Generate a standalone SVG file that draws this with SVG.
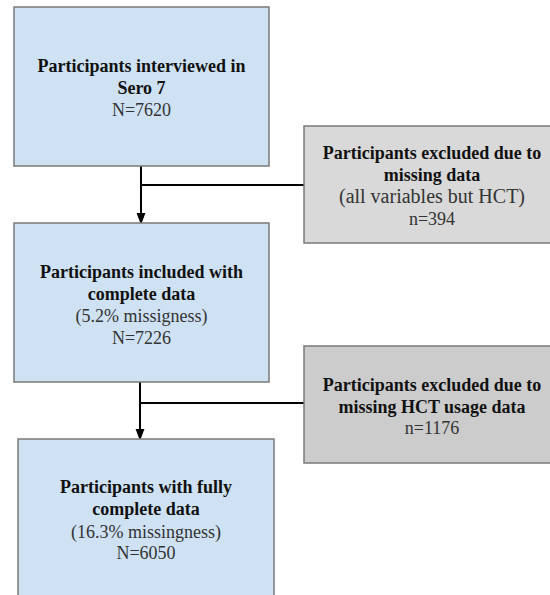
<svg xmlns="http://www.w3.org/2000/svg" width="550" height="595" viewBox="0 0 550 595">
<defs>
<style>
.blue{fill:#cfe2f3;stroke:#7a7a7a;stroke-width:1.5}
.g1{fill:#d9d9d9;stroke:#7a7a7a;stroke-width:1.5}
.g2{fill:#cccccc;stroke:#7a7a7a;stroke-width:1.5}
text{font-family:"Liberation Serif","Times New Roman",serif;font-size:18px;text-anchor:middle}
.b{font-weight:bold;fill:#111}
.n{fill:#333}
.c{stroke:#000;stroke-width:2;fill:none}
</style>
<marker id="arr" markerWidth="12" markerHeight="16" refX="11" refY="6" orient="auto" markerUnits="userSpaceOnUse" viewBox="0 0 16 12">
<path d="M0,0 L16,6 L0,12 Z" fill="#000"/>
</marker>
</defs>
<rect width="550" height="595" fill="#fff"/>
<g id="connectors">
<path class="c" d="M141,166 V221" marker-end="url(#arr)"/>
<path class="c" d="M141,185 H304"/>
<path class="c" d="M140,382 V437" marker-end="url(#arr)"/>
<path class="c" d="M140,403 H304"/>
</g>
<g id="n1">
<rect class="blue" x="14" y="7" width="255" height="159"/>
<text class="b" x="141.5" y="72">Participants interviewed in</text>
<text class="b" x="141.5" y="94">Sero 7</text>
<text class="n" x="141.5" y="116">N=7620</text>
</g>
<g id="n2">
<rect class="g1" x="304" y="126" width="256" height="117"/>
<text class="b" x="432" y="159">Participants excluded due to</text>
<text class="b" x="432" y="181">missing data</text>
<text class="n" x="432" y="203" style="font-size:20px">(all variables but HCT)</text>
<text class="n" x="432" y="225">n=394</text>
</g>
<g id="n3">
<rect class="blue" x="14" y="223" width="255" height="159"/>
<text class="b" x="141.5" y="278">Participants included with</text>
<text class="b" x="141.5" y="300">complete data</text>
<text class="n" x="141.5" y="322">(5.2% missigness)</text>
<text class="n" x="141.5" y="344">N=7226</text>
</g>
<g id="n4">
<rect class="g2" x="304" y="346" width="256" height="117"/>
<text class="b" x="432" y="391">Participants excluded due to</text>
<text class="b" x="432" y="413">missing HCT usage data</text>
<text class="n" x="432" y="434">n=1176</text>
</g>
<g id="n5">
<rect class="blue" x="18" y="439" width="256" height="170"/>
<text class="b" x="146" y="493">Participants with fully</text>
<text class="b" x="146" y="515">complete data</text>
<text class="n" x="146" y="538">(16.3% missingness)</text>
<text class="n" x="146" y="559">N=6050</text>
</g>
</svg>
